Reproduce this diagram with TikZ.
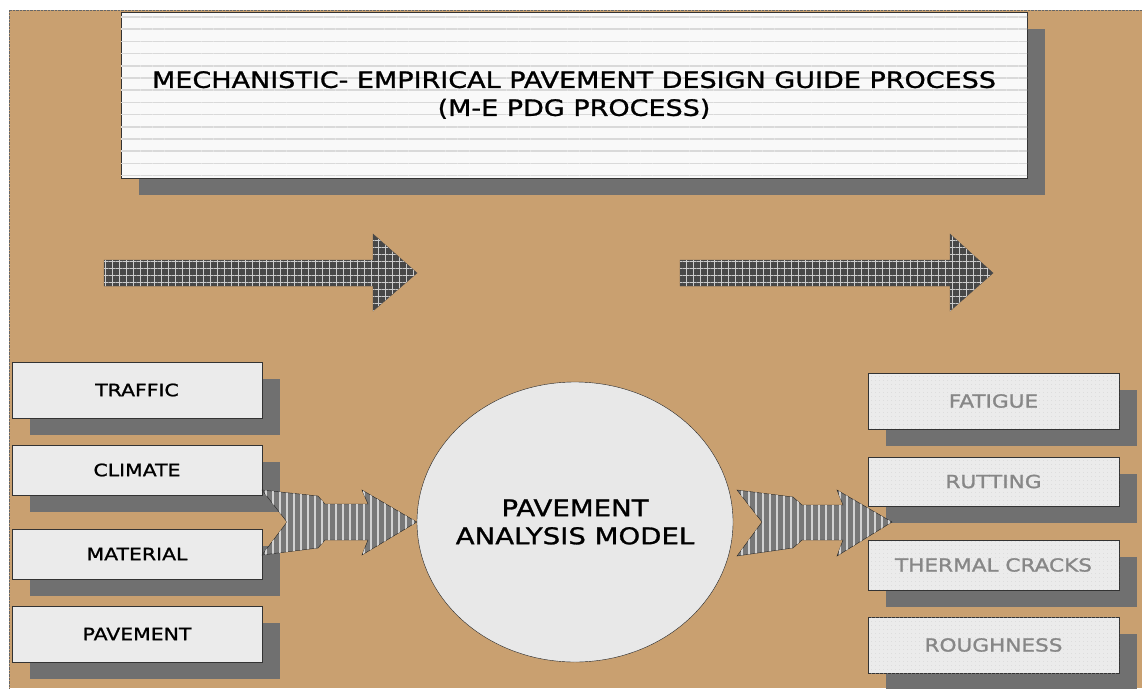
\documentclass[tikz,border=0pt]{standalone}
\usepackage{fontspec}
\setmainfont{DejaVu Sans}[FakeStretch=1.2, FakeBold=1.2]
\usetikzlibrary{positioning}
\usetikzlibrary{shapes.geometric}
\usetikzlibrary{shadows}
\usetikzlibrary{patterns.meta}
\definecolor{board}{RGB}{201,160,112}
\definecolor{shadowgray}{RGB}{112,112,112}
\definecolor{boxgray}{RGB}{235,235,235}
\definecolor{plaid}{RGB}{72,72,72}
\definecolor{stripe}{RGB}{120,120,120}
\definecolor{faded}{RGB}{135,135,135}

\begin{document}
\begin{tikzpicture}[x=1pt,y=-1pt]
	\tikzstyle{slab}=[rectangle, draw=black!80, inner sep=0pt, drop shadow={shadow xshift=18pt, shadow yshift=-17pt, fill=shadowgray, opacity=1}]
	\tikzstyle{inbox}=[slab, fill=boxgray, minimum width=250pt, font=\fontsize{17}{20}\selectfont]
	\tikzstyle{outbox}=[slab, fill=boxgray, minimum width=251pt, text=faded, font=\fontsize{18}{20}\selectfont, postaction={pattern={Dots[distance=4pt,radius=0.4pt]}, pattern color=gray!40}]
	\tikzstyle{bigarrow}=[fill=plaid, draw=black!70, postaction={pattern={Lines[angle=90,distance=7pt,line width=0.9pt]}, pattern color=gray!40}, postaction={pattern={Lines[angle=0,distance=7pt,line width=0.9pt]}, pattern color=gray!40}]
	\tikzstyle{mergearrow}=[fill=stripe, draw=black!85, postaction={pattern={Lines[angle=90,distance=7pt,line width=1.4pt]}, pattern color=gray!35}]
	
	\useasboundingbox (0,0) rectangle (1142,688);
	\fill[white] (0,0) rectangle (1142,688);
	\fill[board] (9,10) rectangle (1142,688);
	\draw[black!60, densely dotted] (9,688) -- (9,10) -- (1142,10);
	
	% title sheet
	\node at (574,95) [slab, fill=gray!5, minimum width=906pt, minimum height=166pt, align=center, font=\fontsize{22.5}{28}\selectfont, postaction={pattern={Lines[angle=0,distance=12.2pt,line width=1.5pt]}, pattern color=gray!30}] (title) {MECHANISTIC- EMPIRICAL PAVEMENT DESIGN GUIDE PROCESS\\(M-E PDG PROCESS)};
	
	% the two long arrows
	\draw[bigarrow] (104,260) -- (373,260) -- (373,234) -- (417,273) -- (373,311) -- (373,286) -- (104,286) -- cycle;
	\draw[bigarrow] (680,260) -- (950,260) -- (950,234) -- (993,273) -- (950,311) -- (950,286) -- (680,286) -- cycle;
	
	% inputs
	\node at (137,390) [inbox, minimum height=56pt] (traffic) {TRAFFIC};
	\node at (137,470) [inbox, minimum height=50pt] (climate) {CLIMATE};
	\node at (137,554) [inbox, minimum height=50pt] (material) {MATERIAL};
	\node at (137,634) [inbox, minimum height=56pt] (pavement) {PAVEMENT};
	
	% outputs
	\node at (993.5,401) [outbox, minimum height=56pt] (fatigue) {FATIGUE};
	\node at (993.5,481.5) [outbox, minimum height=49pt] (rutting) {RUTTING};
	\node at (993.5,565) [outbox, minimum height=50pt] (thermal) {THERMAL CRACKS};
	\node at (993.5,645) [outbox, minimum height=56pt] (roughness) {ROUGHNESS};
	
	\node at (575,522) [ellipse, draw=black!85, fill=gray!18, minimum width=316pt, minimum height=280pt, inner sep=0pt, label={[align=center, font=\fontsize{23}{28}\selectfont]center:PAVEMENT\\ANALYSIS MODEL}] (model) {};
	
	% fat arrows into and out of the model
	\draw[mergearrow] (262,490) -- (318,496) -- (325,504) -- (368,504) -- (362,490) -- (model.west) -- (362,555) -- (368,540) -- (325,540) -- (318,548) -- (262,555) -- (287,522) -- cycle;
	\draw[mergearrow] (737,490) -- (793,497) -- (802,505) -- (843,505) -- (837,490) -- (892,522) -- (837,556) -- (843,540) -- (802,540) -- (793,548) -- (737,556) -- (762,522) -- cycle;
\end{tikzpicture}
\end{document}
